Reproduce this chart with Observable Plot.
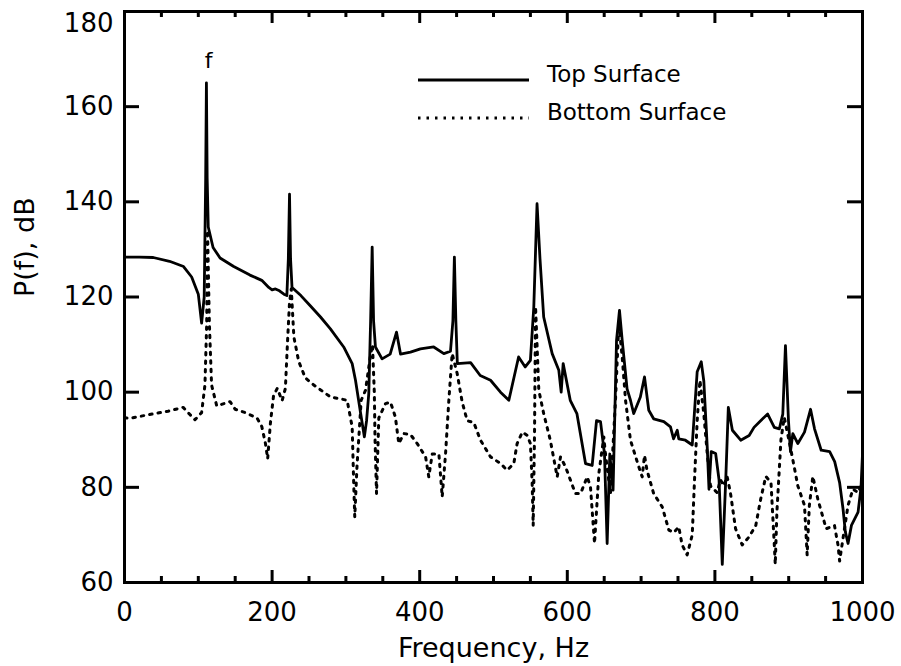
<!DOCTYPE html>
<html>
<head>
<meta charset="utf-8">
<script src="https://cdn.jsdelivr.net/npm/d3@7"></script>
<script src="https://cdn.jsdelivr.net/npm/@observablehq/plot@0.6"></script>
<style>
  html, body { margin: 0; padding: 0; background: #fff; }
</style>
</head>
<body>
<div id="chart"></div>
<script>
// ---- Data ----
const seriesNames = ["Top Surface", "Bottom Surface"];

const topFreq = [0, 20, 39, 61, 80, 91, 100, 104.5, 108, 110, 111, 112, 113.5, 120, 129.5, 148, 170, 186, 195.5, 200, 204.5, 210, 216, 220, 222, 223.6, 225, 227, 239, 252, 265.6, 279, 297, 308.5, 313, 320, 325, 328, 331, 333.5, 335.6, 337.5, 340, 349, 360, 368.6, 374, 387.5, 401, 419, 432.7, 441.7, 445, 447, 449, 451, 469, 482, 496, 509.5, 520.8, 534, 543, 550, 554.6, 559, 563, 568, 579.5, 588.5, 591.7, 594.4, 604, 613, 624.7, 633.7, 639.6, 645, 650.4, 654, 657.6, 662, 666.7, 670.7, 674.4, 681, 685.6, 690, 699, 704.6, 710.4, 717, 730.8, 739.8, 744, 749, 751, 760, 769.3, 776, 781.5, 785, 789.6, 792, 795, 801, 805.6, 810, 814.7, 818.2, 823.7, 835, 846.4, 853, 862, 871.5, 880.5, 887.3, 892, 895.6, 899.7, 902.4, 905.6, 912.4, 921.4, 929.6, 935, 944, 955.5, 962.3, 969, 973.6, 976.7, 980.4, 985, 994, 998, 1000];
const topDb = [128.4, 128.4, 128.3, 127.5, 126.4, 124.2, 120.6, 114.5, 120, 145, 165, 145, 134.7, 130.4, 128.2, 126.4, 124.6, 123.5, 122, 121.5, 121.7, 121.3, 120.6, 120.3, 128, 141.6, 128, 122, 120.3, 118.1, 115.8, 113.3, 109.5, 106, 102.5, 95.5, 90.6, 94, 99.7, 115, 130.5, 115, 109.5, 107, 108, 112.6, 108, 108.4, 109.1, 109.5, 108.1, 108.6, 115, 128.4, 115, 106, 106.2, 103.5, 102.5, 100, 98.3, 107.4, 105.3, 106.7, 117.9, 139.6, 128, 115.8, 108.1, 104.6, 100, 106, 98.3, 95.5, 85, 84.6, 94, 93.8, 87, 68.2, 87, 79.4, 110.9, 117.2, 110.9, 100.7, 98.3, 95.5, 99, 103.2, 96.2, 94.4, 93.8, 92.7, 90.2, 92, 90.2, 89.9, 88.9, 104.3, 106.4, 102.3, 88.5, 79.6, 87.5, 87.1, 81.6, 63.8, 81.6, 96.8, 92, 89.9, 90.9, 92.6, 94, 95.4, 92.6, 92.3, 95.4, 109.8, 94, 87.5, 91.3, 89.2, 91.6, 96.4, 92.3, 87.8, 87.5, 85.4, 81, 75.5, 70.7, 68.2, 72, 74.8, 80, 87];

const bottomFreq = [0, 6.8, 34, 59, 79.5, 88.6, 95.5, 104.5, 109, 111.4, 112.5, 115, 118, 125, 143, 150, 163.6, 179.5, 186, 191, 194, 197.7, 202, 207, 213.6, 218, 221, 223.6, 226, 229.5, 236, 245, 256.5, 279, 301.7, 308.5, 310.7, 312, 315, 320.7, 326.6, 333, 336, 338.5, 339.5, 341.5, 344.6, 353.7, 360.4, 367, 371.7, 378.5, 387.5, 396.6, 408, 412.3, 417, 426, 430.5, 435, 439.5, 444, 450.8, 457.6, 464.4, 473.3, 482.4, 496, 509.5, 518.5, 527.5, 532, 539, 545.7, 550, 552.4, 553.8, 555.6, 557, 561.4, 568, 577, 586.3, 590.8, 597.6, 611, 618, 627, 631.4, 636.9, 642.7, 649.5, 651.7, 658.5, 665.3, 669.8, 674.4, 678.9, 685.6, 696.9, 701.5, 704.6, 708, 717, 728.6, 737.6, 744.4, 751, 755.6, 762.4, 769.3, 772.4, 776, 779.7, 785, 789.6, 794, 803, 807.5, 812, 816.5, 821, 828, 837, 846.4, 855.4, 862, 869, 876, 880.5, 881.8, 884, 889.5, 894, 898.5, 905.6, 912.4, 921.4, 925, 928, 932.7, 939.5, 950.8, 962, 966.8, 969, 973.6, 980.4, 987, 994, 1000];
const bottomDb = [94.6, 94.5, 95.3, 96, 96.8, 95.3, 94.2, 95.7, 101.5, 114.5, 134, 114.5, 101.5, 97.1, 98, 96.4, 95.7, 94.6, 92.8, 89.2, 86, 93.5, 99.3, 100.8, 98.2, 100.8, 110.9, 118.8, 121.7, 111.6, 106.5, 103, 101.5, 99, 98.3, 92.7, 80.1, 73.8, 84.3, 98.3, 100.4, 107.4, 110, 100, 90, 78.7, 94.6, 97.6, 97.9, 94.8, 89.2, 91.3, 91.1, 89.2, 86.4, 82.2, 87, 87, 78, 87, 98.3, 108.1, 103.9, 97.9, 94, 93.6, 89.9, 86.4, 85, 83.6, 85, 89.2, 91.6, 90.9, 89.2, 80.8, 72, 91.3, 117.9, 100.4, 95.5, 89.9, 82.2, 86.4, 84.3, 78.7, 78.7, 82.2, 80.1, 68.2, 82.9, 90.6, 87, 78.7, 98.3, 114.4, 107.4, 98.3, 89.9, 84.3, 82.2, 86.7, 83.6, 78.7, 75.9, 71, 70.5, 71.7, 67.9, 65.8, 70, 81.6, 94, 102.5, 95.4, 87.1, 80.3, 78.9, 81.6, 80.3, 82.3, 78.9, 71.3, 67.9, 69.6, 72, 77.5, 82.3, 81, 67.9, 63.8, 74.8, 90, 94.7, 91.3, 85.8, 80.3, 76.2, 65.8, 76.2, 82.3, 77.5, 71.3, 72, 67.9, 64.5, 69.3, 76.2, 79.6, 78.9, 81];

const xMajorTicks = [0, 200, 400, 600, 800, 1000];
const xMinorTicks = [50, 100, 150, 250, 300, 350, 450, 500, 550, 650, 700, 750, 850, 900, 950];
const yTicks = [60, 80, 100, 120, 140, 160, 180];
const xLabel = "Frequency, Hz";
const yLabel = "P(f), dB";
const peakNote = [{freq: 114, db: 168.2, text: "f"}];

// ---- Layout ----
const W = 901, H = 666;
const mL = 124, mR = 39, mT = 11, mB = 84;
const fw = W - mL - mR, fh = H - mT - mB;

const topData = topFreq.map((f, i) => ({f, db: topDb[i]}));
const bottomData = bottomFreq.map((f, i) => ({f, db: bottomDb[i]}));

const plot = Plot.plot({
  width: W, height: H,
  marginLeft: mL, marginRight: mR, marginTop: mT, marginBottom: mB,
  style: {fontFamily: "DejaVu Sans", fontSize: "26px", color: "#000", background: "#fff"},
  x: {domain: [0, 1000]},
  y: {domain: [60, 180]},
  marks: [
    Plot.line(bottomData, {x: "f", y: "db", stroke: "#000", strokeWidth: 3, strokeDasharray: "2.5,6"}),
    Plot.line(topData, {x: "f", y: "db", stroke: "#000", strokeWidth: 2.8, strokeLinejoin: "round"}),
    // inward ticks on all four sides
    Plot.tickX(xMajorTicks, {x: d => d, insetTop: fh - 12, stroke: "#000", strokeWidth: 3}),
    Plot.tickX(xMinorTicks, {x: d => d, insetTop: fh - 6, stroke: "#000", strokeWidth: 3}),
    Plot.tickX(xMajorTicks, {x: d => d, insetBottom: fh - 12, stroke: "#000", strokeWidth: 3}),
    Plot.tickX(xMinorTicks, {x: d => d, insetBottom: fh - 6, stroke: "#000", strokeWidth: 3}),
    Plot.tickY(yTicks, {y: d => d, insetRight: fw - 15, stroke: "#000", strokeWidth: 3}),
    Plot.tickY(yTicks, {y: d => d, insetLeft: fw - 15, stroke: "#000", strokeWidth: 3}),
    // tick labels
    Plot.axisX(xMajorTicks, {tickSize: 0, tickPadding: 20, fontSize: 26, label: null, tickFormat: d => String(d)}),
    Plot.axisY(yTicks.filter(d => d < 180), {tickSize: 0, tickPadding: 11, fontSize: 26, label: null, tickFormat: d => String(d)}),
    Plot.axisY(yTicks.filter(d => d >= 180), {tickSize: 0, tickPadding: 11, fontSize: 26, dy: 12, label: null, tickFormat: d => String(d)}),
    // axis titles
    Plot.text([xLabel], {frameAnchor: "bottom", dy: 74, lineAnchor: "bottom", fontSize: 27, text: d => d}),
    Plot.text([yLabel], {frameAnchor: "left", dx: -91, rotate: -90, lineAnchor: "bottom", fontSize: 27, text: d => d}),
    // peak annotation
    Plot.text(peakNote, {x: "freq", y: "db", text: "text", lineAnchor: "bottom", fontSize: 22}),
    Plot.frame({stroke: "#000", strokeWidth: 3})
  ]
});

// ---- Legend (inside the plot, upper right) ----
const svg = d3.select(plot);
const lg = svg.append("g")
  .attr("font-family", "DejaVu Sans").attr("font-size", 23)
  .attr("fill", "#000").attr("text-anchor", "start");
const legendRows = [
  {name: seriesNames[0], y: 80, dash: null, width: 2.8},
  {name: seriesNames[1], y: 118, dash: "2.5,6", width: 3}
];
legendRows.forEach(r => {
  const ln = lg.append("line").attr("x1", 418).attr("x2", 529).attr("y1", r.y).attr("y2", r.y)
    .attr("stroke", "#000").attr("stroke-width", r.width);
  if (r.dash) ln.attr("stroke-dasharray", r.dash);
  lg.append("text").attr("x", 547).attr("y", r.y + 2).attr("text-anchor", "start").text(r.name);
});

document.getElementById("chart").appendChild(plot);
</script>
</body>
</html>
